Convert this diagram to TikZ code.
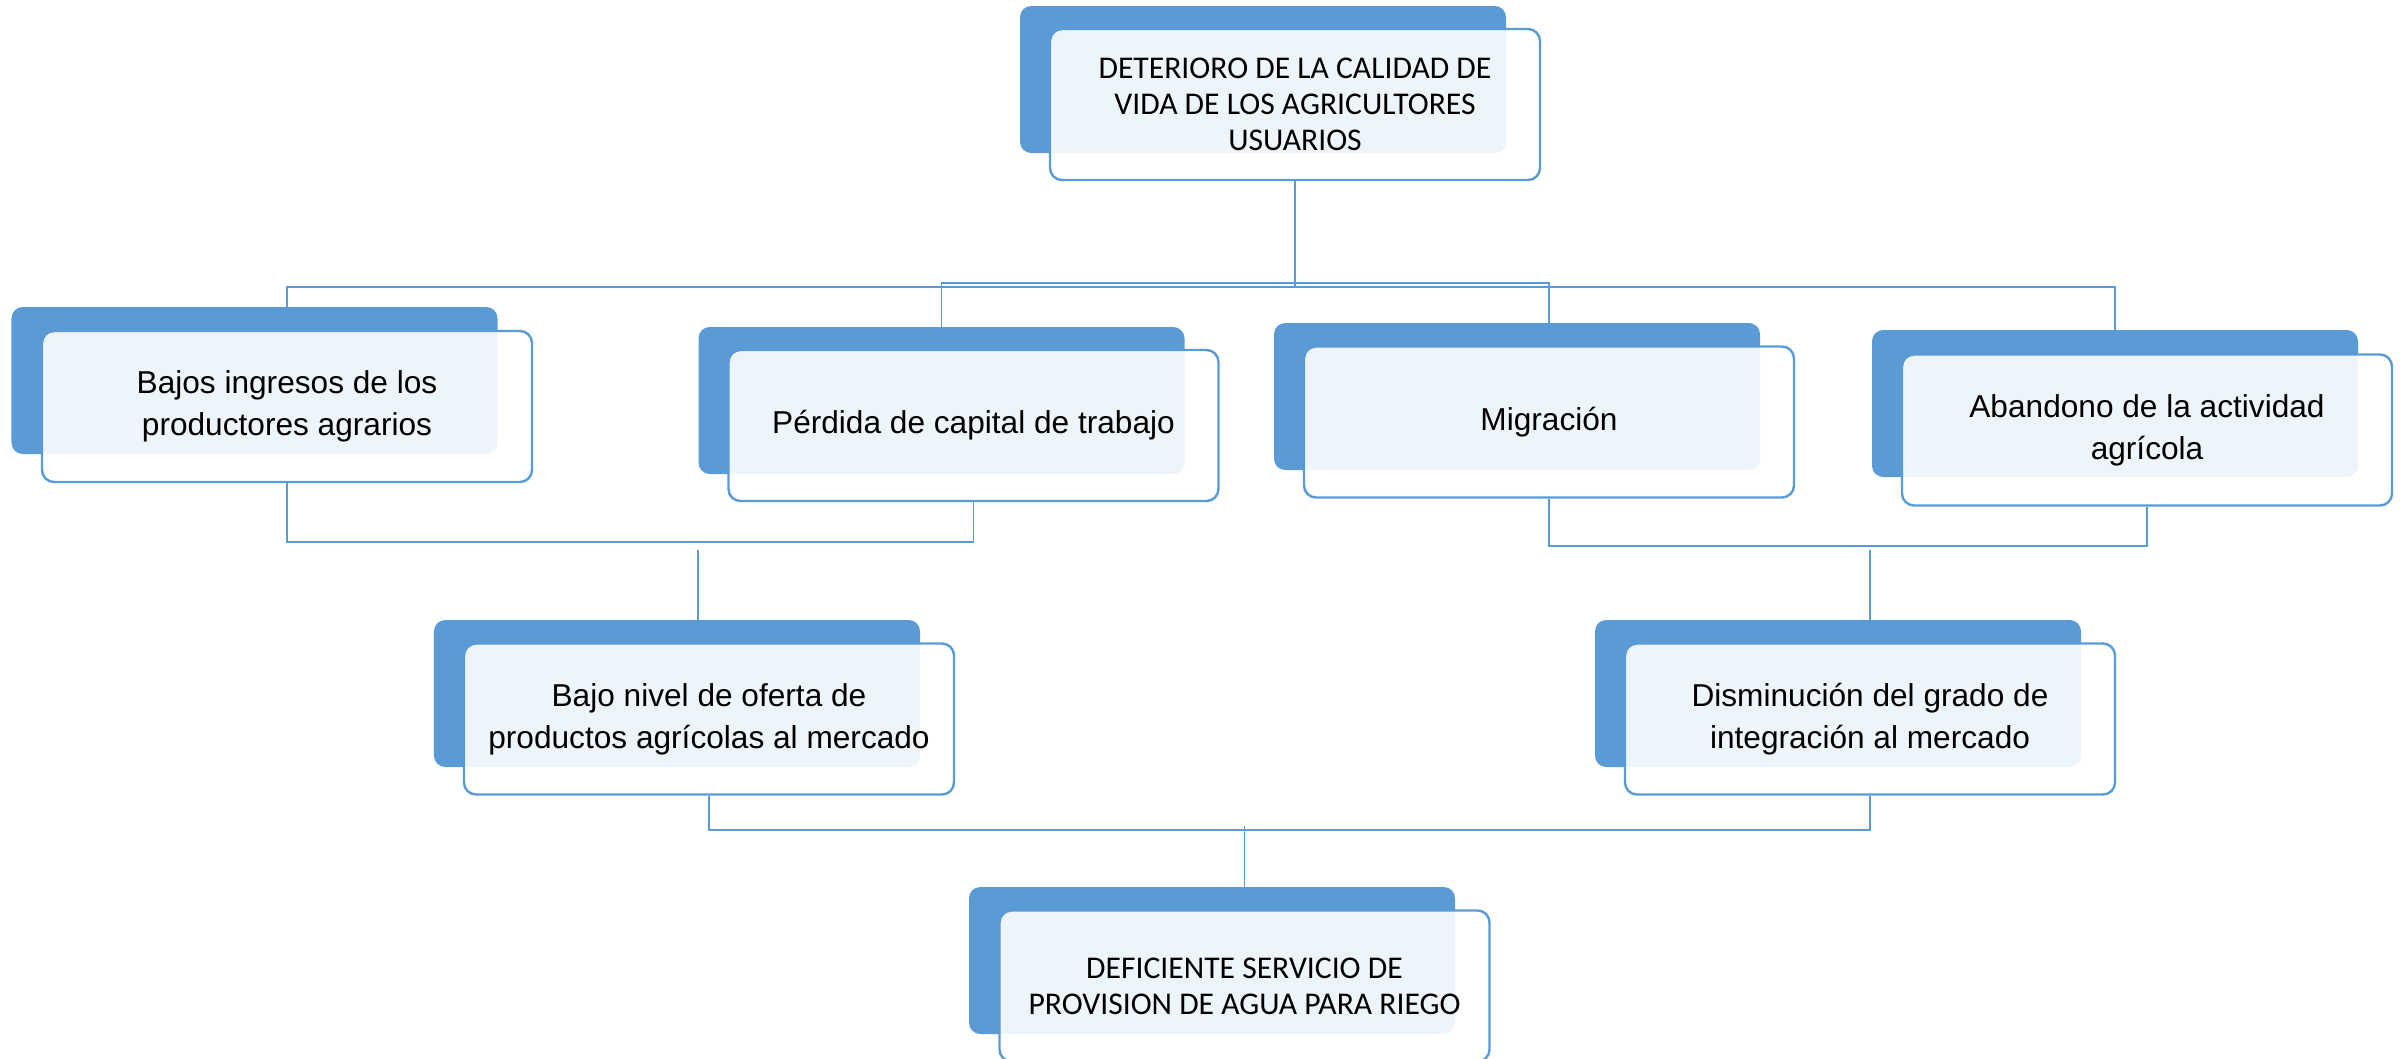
\documentclass[tikz,border=0pt]{standalone}
\usepackage{fontspec}
\setmainfont{Liberation Sans}
\newfontfamily\capsfont{Carlito}
\definecolor{accentBlue}{HTML}{5B9BD5}

\begin{document}
\begin{tikzpicture}[x=0.25mm, y=-0.25mm, semithick]
        \tikzset{
           backBox/.style={
                        rectangle,
                        rounded corners=2.8mm,
                        draw=none,
                        fill=accentBlue,
                        inner sep=0pt,
                        minimum width=121.5mm,
                        minimum height=36.75mm
                       },
           frontBox/.style={
                        rectangle,
                        rounded corners=3mm,
                        draw=accentBlue,
                        line width=0.6mm,
                        fill=white,
                        fill opacity=0.9,
                        text opacity=1,
                        text=black,
                        inner sep=0pt,
                        minimum width=122.5mm,
                        minimum height=37.75mm,
                        align=center,
                        font=\fontsize{22.5}{30}\selectfont
                       },
           capsBox/.style={
                        frontBox,
                        font=\capsfont\fontsize{22.5}{25.5}\selectfont
                       },
           link/.style={
                        draw=accentBlue,
                        line width=0.38mm
                       },
                 }
        \useasboundingbox (0,0) rectangle (2402,1058);
    %--------------------
        \node[backBox]  (calidadBack)      at (1263,79.5)   {};
        \node[capsBox]  (calidadFront)     at (1295,104.5)  {DETERIORO DE LA CALIDAD DE\\VIDA DE LOS AGRICULTORES\\USUARIOS};

        \node[backBox]  (ingresosBack)     at (254.5,380.5) {};
        \node[frontBox] (ingresosFront)    at (287,406.5)   {Bajos ingresos de los\\productores agrarios};
        \node[backBox]  (perdidaBack)      at (941.5,400.5) {};
        \node[frontBox] (perdidaFront)     at (973.5,425.5) {Pérdida de capital de trabajo};
        \node[backBox]  (migracionBack)    at (1517,396.5)  {};
        \node[frontBox] (migracionFront)   at (1549,422)    {Migración};
        \node[backBox]  (abandonoBack)     at (2115,403.5)  {};
        \node[frontBox] (abandonoFront)    at (2147,430)    {Abandono de la actividad\\agrícola};

        \node[backBox]  (ofertaBack)       at (677,693.5)   {};
        \node[frontBox] (ofertaFront)      at (709,719)     {Bajo nivel de oferta de\\productos agrícolas al mercado};
        \node[backBox]  (integracionBack)  at (1838,693.5)  {};
        \node[frontBox] (integracionFront) at (1870,719)    {Disminución del grado de\\integración al mercado};

        \node[backBox]  (servicioBack)     at (1212,960.5)  {};
        \node[capsBox]  (servicioFront)    at (1244.5,986)  {DEFICIENTE SERVICIO DE\\PROVISION DE AGUA PARA RIEGO};
    %--------------------
        \coordinate (busTopA)  at (1295,287);
        \coordinate (busTopB)  at (1295,283);
        \coordinate (busMidL)  at (698,542);
        \coordinate (dropMidL) at (698,550);
        \coordinate (busMidR)  at (1870,546);
        \coordinate (dropMidR) at (1870,550);
        \coordinate (busLow)   at (1244.5,830);
        \coordinate (dropLow)  at (1244.5,826);

        \draw[link] (calidadFront.south)   -- (busTopA);
        \draw[link] (ingresosFront.north)  |- (busTopA) -| (abandonoBack.north);
        \draw[link] (perdidaBack.north)    |- (busTopB) -| (migracionFront.north);

        \draw[link] (ingresosFront.south)  |- (busMidL) -| (perdidaFront.south);
        \draw[link] (dropMidL)             -- (dropMidL |- ofertaBack.north);
        \draw[link] (migracionFront.south) |- (busMidR) -| (abandonoFront.south);
        \draw[link] (dropMidR)             -- (dropMidR |- integracionBack.north);

        \draw[link] (ofertaFront.south)    |- (busLow) -| (integracionFront.south);
        \draw[link] (dropLow)              -- (dropLow |- servicioBack.north);
    \end{tikzpicture}
\end{document}
